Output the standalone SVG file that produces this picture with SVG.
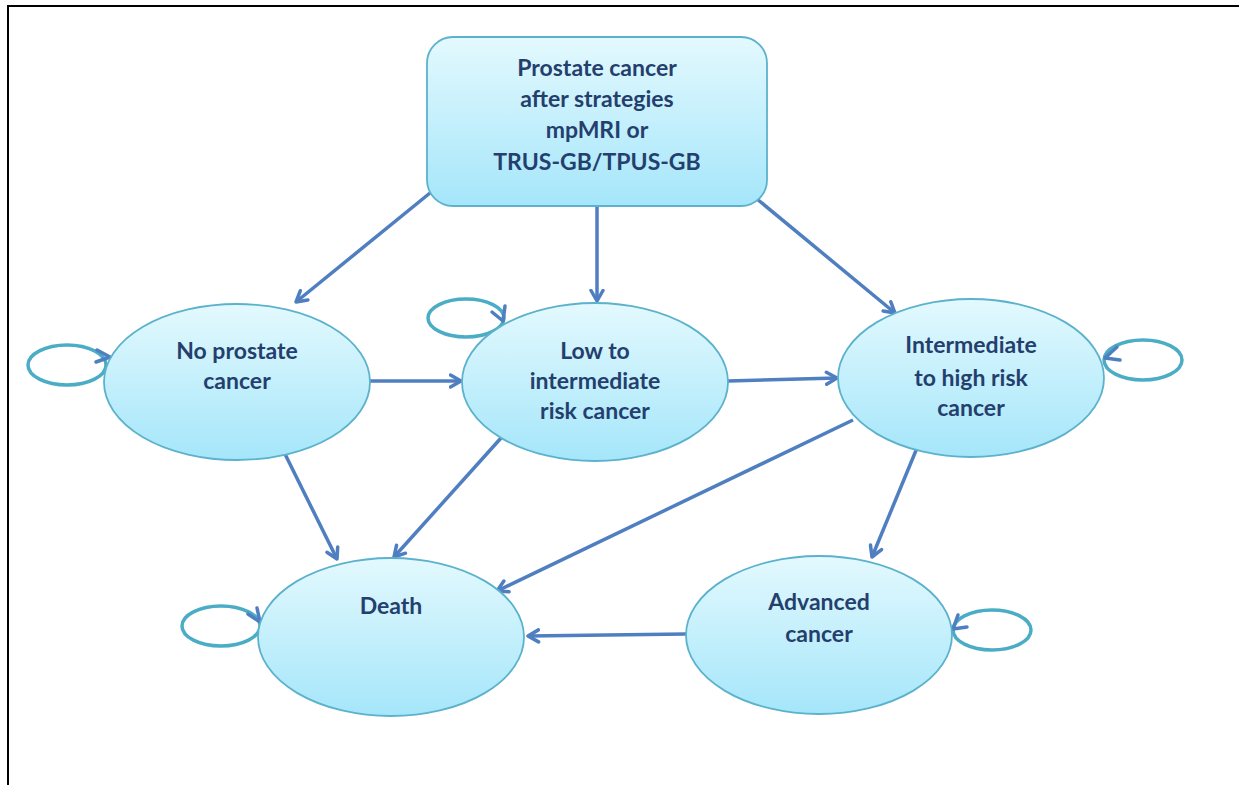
<svg xmlns="http://www.w3.org/2000/svg" width="1239" height="785" viewBox="0 0 1239 785">
<defs>
<linearGradient id="g" x1="0" y1="0" x2="0" y2="1">
<stop offset="0" stop-color="#e3f9fe"/>
<stop offset="1" stop-color="#a5e6fa"/>
</linearGradient>
<marker id="ah" viewBox="0 0 16 16" refX="12.5" refY="8" markerWidth="16" markerHeight="16" markerUnits="userSpaceOnUse" orient="auto">
<path d="M2,2 L12.5,8 L2,14" fill="none" stroke="#4f7fc0" stroke-width="3.5" stroke-linecap="round" stroke-linejoin="round"/>
</marker>
</defs>
<style>
.node{fill:url(#g);stroke:#5cb2cc;stroke-width:1.8}
.lbl{font-family:Lato,"Open Sans","Liberation Sans",sans-serif;font-weight:bold;font-size:23px;fill:#243f6e;text-anchor:middle}
.edge{fill:none;stroke:#4f7fc0;stroke-width:3.5;marker-end:url(#ah)}
.loop{fill:none;stroke:#4bacc6;stroke-width:3.5}
.lh{fill:none;stroke:#4f7fc0;stroke-width:3.5;stroke-linecap:round;stroke-linejoin:round}
.frame{stroke:#000;stroke-width:2;fill:none}
</style>
<rect width="1239" height="785" fill="#fff"/>
<path class="frame" d="M8,785 L8,6 L1239,6"/>

<g id="connectors">
<line class="edge" x1="430" y1="193" x2="296" y2="302"/>
<line class="edge" x1="597" y1="207" x2="597" y2="301"/>
<line class="edge" x1="757" y1="199" x2="895" y2="313"/>
<line class="edge" x1="370" y1="381" x2="461" y2="381"/>
<line class="edge" x1="728" y1="381" x2="837" y2="378"/>
<line class="edge" x1="283" y1="450" x2="337" y2="559"/>
<line class="edge" x1="501" y1="438" x2="394" y2="557"/>
<line class="edge" x1="853" y1="420" x2="497" y2="591"/>
<line class="edge" x1="917" y1="448" x2="872" y2="557"/>
<line class="edge" x1="686" y1="634" x2="528" y2="636"/>
</g>

<g id="loops">
<ellipse class="loop" cx="67" cy="365" rx="39" ry="20"/>
<polyline class="lh" points="97,350 110,357 96,362"/>
<ellipse class="loop" cx="466" cy="318" rx="38" ry="19"/>
<polyline class="lh" points="492,312 503,321 505,306"/>
<ellipse class="loop" cx="1143" cy="360" rx="39" ry="20"/>
<polyline class="lh" points="1117,347 1105,358 1120,360"/>
<ellipse class="loop" cx="221" cy="626" rx="39" ry="20"/>
<polyline class="lh" points="248,614 260,622 257,608"/>
<ellipse class="loop" cx="992" cy="630" rx="39" ry="20"/>
<polyline class="lh" points="958,615 953,629 967,627"/>
</g>

<g id="start">
<rect class="node" x="427" y="37" width="340" height="169" rx="26"/>
<text class="lbl" x="597" y="76">Prostate cancer</text>
<text class="lbl" x="597" y="107">after strategies</text>
<text class="lbl" x="597" y="138">mpMRI or</text>
<text class="lbl" x="597" y="170">TRUS-GB/TPUS-GB</text>
</g>

<g id="no-cancer">
<ellipse class="node" cx="237" cy="382" rx="133" ry="78"/>
<text class="lbl" x="237" y="359">No prostate</text>
<text class="lbl" x="237" y="389">cancer</text>
</g>

<g id="low-risk">
<ellipse class="node" cx="595" cy="382" rx="133" ry="79"/>
<text class="lbl" x="595" y="359">Low to</text>
<text class="lbl" x="595" y="389">intermediate</text>
<text class="lbl" x="595" y="419">risk cancer</text>
</g>

<g id="high-risk">
<ellipse class="node" cx="971" cy="378" rx="133" ry="79"/>
<text class="lbl" x="971" y="353">Intermediate</text>
<text class="lbl" x="971" y="386">to high risk</text>
<text class="lbl" x="971" y="416">cancer</text>
</g>

<g id="death">
<ellipse class="node" cx="391" cy="637" rx="133" ry="79"/>
<text class="lbl" x="391" y="614">Death</text>
</g>

<g id="advanced">
<ellipse class="node" cx="819" cy="635" rx="133" ry="79"/>
<text class="lbl" x="819" y="610">Advanced</text>
<text class="lbl" x="819" y="642">cancer</text>
</g>
</svg>
